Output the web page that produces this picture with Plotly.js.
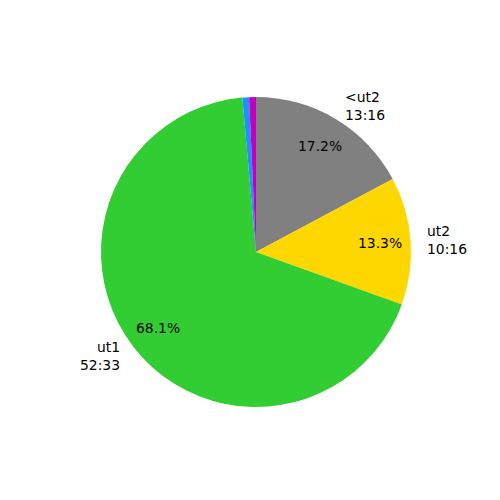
<!DOCTYPE html>
<html>
<head>
<meta charset="utf-8">
<script src="https://cdn.plot.ly/plotly-3.0.1.min.js"></script>
<style>html,body{margin:0;padding:0;background:#fff;}#chart{width:500px;height:500px;}</style>
</head>
<body>
<div id="chart"></div>
<script>
// Durations in seconds (clockwise from 12 o'clock)
const labels = ["<ut2", "ut2", "ut1", "", ""];
const timeLabels = ["13:16", "10:16", "52:33", "", ""];
const values = [796, 616, 3153, 32, 33];
const colors = ["#808080", "#FFD700", "#32CD32", "#1E90FF", "#BF00BF"];

const W = 500, H = 500;
const cx = 256, cy = 252, R = 155;

const total = values.reduce((a, b) => a + b, 0);
const annotations = [];
let cum = 0;
const font = {family: "DejaVu Sans", size: 13.9, color: "#000"};
values.forEach((v, i) => {
  const mid = (cum + v / 2) / total;
  cum += v;
  if (!labels[i]) return;
  const ang = (90 - 360 * mid) * Math.PI / 180;
  const c = Math.cos(ang), s = Math.sin(ang);
  // outer label
  const lx = cx + 1.1 * R * c, ly = cy - 1.1 * R * s;
  const left = c >= 0;
  annotations.push({
    xref: "paper", yref: "paper", x: lx / W, y: 1 - ly / H,
    text: labels[i] + "<br>" + timeLabels[i],
    showarrow: false, xanchor: left ? "left" : "right", yanchor: "middle",
    align: left ? "left" : "right", font: font, borderpad: 0
  });
  // percentage
  const px = cx + 0.8 * R * c, py = cy - 0.8 * R * s;
  annotations.push({
    xref: "paper", yref: "paper", x: px / W, y: 1 - py / H,
    text: (100 * v / total).toFixed(1) + "%",
    showarrow: false, xanchor: "center", yanchor: "middle",
    font: font, borderpad: 0
  });
});

const trace = {
  type: "pie",
  labels: values.map((v, i) => "s" + i),
  values: values,
  marker: {colors: colors, line: {width: 0}},
  sort: false,
  direction: "clockwise",
  rotation: 0,
  textinfo: "none",
  hoverinfo: "none",
  showlegend: false,
  domain: {x: [(cx - R) / W, (cx + R) / W], y: [1 - (cy + R) / H, 1 - (cy - R) / H]}
};

Plotly.newPlot("chart", [trace], {
  width: W, height: H,
  margin: {l: 0, r: 0, t: 0, b: 0},
  paper_bgcolor: "#fff",
  showlegend: false,
  annotations: annotations
}, {staticPlot: true});
</script>
</body>
</html>
